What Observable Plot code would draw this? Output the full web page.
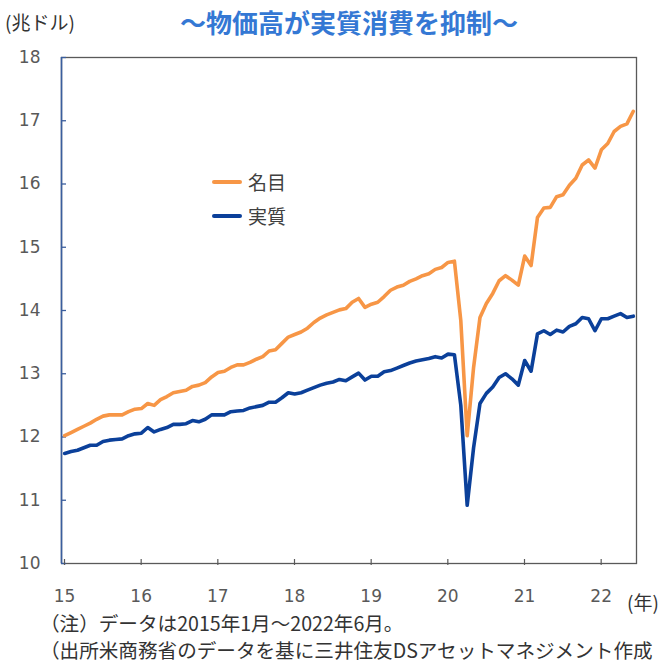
<!DOCTYPE html>
<html>
<head>
<meta charset="utf-8">
<script src="https://cdn.jsdelivr.net/npm/d3@7"></script>
<script src="https://cdn.jsdelivr.net/npm/@observablehq/plot@0.6"></script>
<style>
  html, body { margin: 0; padding: 0; background: #fff; }
  #wrap { position: relative; width: 665px; height: 664px; overflow: hidden; background: #fff; }
  #wrap svg { position: absolute; left: 0; top: 0; }
  .lbl { position: absolute; white-space: nowrap; font-family: "Noto Sans CJK JP", sans-serif; }
</style>
</head>
<body>
<div id="wrap"></div>
<script>
// Monthly data, Jan 2015 - Jun 2022 (trillion USD, annualized)
const nominal = [
  12.02, 12.07, 12.12, 12.17, 12.22, 12.28, 12.33, 12.35, 12.35, 12.35, 12.40, 12.44,
  12.45, 12.53, 12.50, 12.59, 12.64, 12.70, 12.72, 12.74, 12.80, 12.82, 12.86, 12.95,
  13.02, 13.04, 13.10, 13.14, 13.14, 13.18, 13.23, 13.27, 13.36, 13.38, 13.48, 13.58,
  13.62, 13.66, 13.72, 13.81, 13.88, 13.93, 13.97, 14.01, 14.03, 14.13, 14.19, 14.05,
  14.10, 14.13, 14.22, 14.32, 14.37, 14.40, 14.46, 14.50, 14.55, 14.58, 14.65, 14.68,
  14.76, 14.78, 13.84, 12.02, 13.10, 13.89, 14.11, 14.27, 14.47, 14.55, 14.48, 14.40,
  14.86, 14.71, 15.47, 15.62, 15.63, 15.80, 15.83, 15.98, 16.09, 16.30, 16.38, 16.25,
  16.54, 16.64, 16.83, 16.91, 16.95, 17.15
];
const real = [
  11.74, 11.77, 11.79, 11.83, 11.87, 11.87, 11.93, 11.95, 11.96, 11.97, 12.02, 12.05,
  12.06, 12.15, 12.08, 12.12, 12.15, 12.20, 12.20, 12.21, 12.26, 12.24, 12.28, 12.35,
  12.35, 12.35, 12.40, 12.41, 12.42, 12.46, 12.48, 12.50, 12.55, 12.55, 12.62, 12.70,
  12.68, 12.70, 12.74, 12.78, 12.82, 12.85, 12.87, 12.91, 12.89, 12.95, 13.01, 12.90,
  12.96, 12.96, 13.03, 13.05, 13.09, 13.13, 13.17, 13.20, 13.22, 13.24, 13.27, 13.25,
  13.31, 13.30, 12.50, 10.92, 11.83, 12.53, 12.69, 12.79, 12.94, 13.00, 12.92, 12.82,
  13.21, 13.04, 13.63, 13.68, 13.62, 13.69, 13.66, 13.75, 13.79, 13.89, 13.87, 13.68,
  13.87, 13.87, 13.91, 13.95, 13.89, 13.91
];
const yearLabels = ["15", "16", "17", "18", "19", "20", "21", "22"];
const yearStarts = [0, 12, 24, 36, 48, 60, 72, 84]; // month index of each January
const yTicks = [10, 11, 12, 13, 14, 15, 16, 17, 18];
const seriesNames = ["名目", "実質"];
const titleText = "～物価高が実質消費を抑制～";
const unitText = "(兆ドル)";
const xUnitText = "(年)";
const noteLines = [
  "（注）データは2015年1月～2022年6月。",
  "（出所米商務省のデータを基に三井住友DSアセットマネジメント作成"
];

const ORANGE = "#F79646";
const BLUE = "#0B409A";
const AXISBLUE = "#3A5E9E";
const GRAY = "#595959";

const nomRows = nominal.map((v, i) => ({m: i + 0.5, v}));
const realRows = real.map((v, i) => ({m: i + 0.5, v}));

const chart = Plot.plot({
  width: 665,
  height: 664,
  marginLeft: 61,
  marginRight: 29,
  marginTop: 57,
  marginBottom: 101,
  x: {domain: [0, 90]},
  y: {domain: [10, 18]},
  style: {fontFamily: "DejaVu Sans", fontSize: "17px", color: GRAY, background: "white", overflow: "visible"},
  marks: [
    Plot.frame({stroke: GRAY, strokeWidth: 1.3}),
    Plot.ruleX([0], {stroke: AXISBLUE, strokeWidth: 1.6}),
    Plot.axisY({ticks: yTicks, tickSize: -5, tickPadding: 26, stroke: AXISBLUE, strokeWidth: 1.3, fill: GRAY, label: null, fontSize: 17}),
    Plot.axisX({ticks: yearStarts, tickSize: -6, tickPadding: 30, dy: 2, stroke: GRAY, strokeWidth: 1.2, fill: GRAY, dx: 3,
      tickFormat: (d) => yearLabels[yearStarts.indexOf(d)], label: null, fontSize: 17}),
    Plot.line(realRows, {x: "m", y: "v", stroke: BLUE, strokeWidth: 3.6, strokeLinejoin: "round"}),
    Plot.line(nomRows, {x: "m", y: "v", stroke: ORANGE, strokeWidth: 3.6, strokeLinejoin: "round"})
  ]
});

const wrap = document.getElementById("wrap");
wrap.appendChild(chart);

function addLabel(text, css) {
  const d = document.createElement("div");
  d.className = "lbl";
  d.textContent = text;
  Object.assign(d.style, css);
  wrap.appendChild(d);
  return d;
}

addLabel(titleText, {left: "0px", width: "698px", textAlign: "center", top: "5px", fontSize: "26px", fontWeight: "bold", color: "#3478D4", lineHeight: "34px"});
addLabel(unitText, {left: "5px", top: "9px", fontSize: "19px", color: "#333", lineHeight: "26px"});
addLabel(xUnitText, {left: "627px", top: "589px", fontSize: "19px", color: "#333", lineHeight: "26px"});
addLabel(noteLines[0], {left: "40px", top: "611px", fontSize: "19.6px", color: "#333", lineHeight: "24px"});
addLabel(noteLines[1], {left: "40px", top: "639px", fontSize: "19.6px", color: "#333", lineHeight: "22px"});

// legend
const legendColors = [ORANGE, BLUE];
const legendTops = [169, 203];
seriesNames.forEach((name, k) => {
  const row = document.createElement("div");
  Object.assign(row.style, {position: "absolute", left: "212px", top: legendTops[k] + "px", height: "26px", display: "flex", alignItems: "center"});
  const sw = document.createElement("span");
  Object.assign(sw.style, {display: "inline-block", width: "30px", height: "4px", background: legendColors[k], borderRadius: "2px", marginRight: "6px"});
  const tx = document.createElement("span");
  tx.textContent = name;
  Object.assign(tx.style, {fontFamily: "'Noto Sans CJK JP', sans-serif", fontSize: "19px", color: "#404040", lineHeight: "26px"});
  row.appendChild(sw);
  row.appendChild(tx);
  wrap.appendChild(row);
});
</script>
</body>
</html>
